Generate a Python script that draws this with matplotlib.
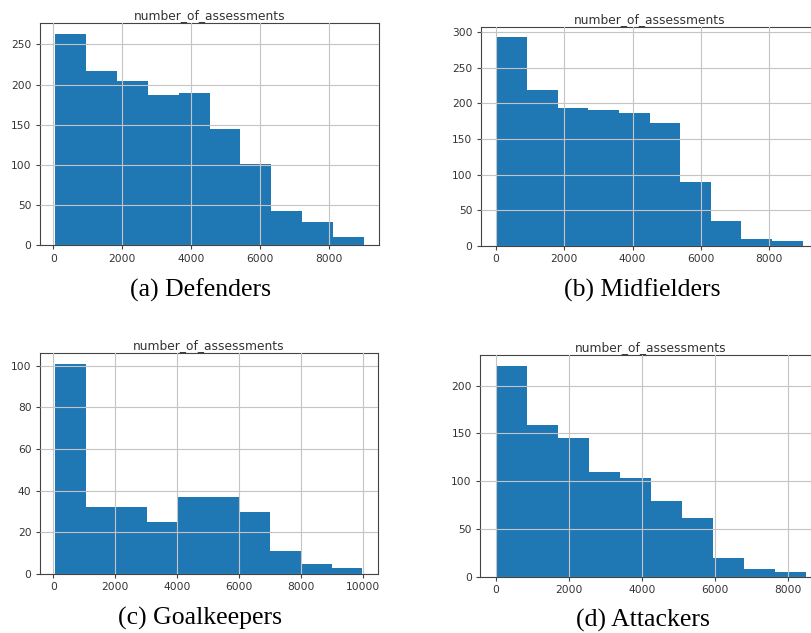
import numpy as np
import matplotlib
matplotlib.use('Agg')
import matplotlib.pyplot as plt

# counts per bin (10 bins each, pandas default)
defenders = [263, 217, 204, 187, 190, 145, 101, 43, 29, 10]
midfielders = [293, 219, 194, 191, 187, 173, 89, 35, 10, 7]
goalkeepers = [101, 32, 32, 25, 37, 37, 30, 11, 5, 3]
attackers = [221, 159, 145, 110, 103, 79, 62, 20, 8, 5]

# min / max of number_of_assessments per group
defenders_range = (60, 9010)
midfielders_range = (10, 8985)
goalkeepers_range = (65, 9970)
attackers_range = (5, 8470)

captions = ['(a) Defenders', '(b) Midfielders', '(c) Goalkeepers', '(d) Attackers']

plt.rcParams['xtick.labelsize'] = 7.7
plt.rcParams['ytick.labelsize'] = 7.7
plt.rcParams['axes.edgecolor'] = '#444444'
plt.rcParams['xtick.color'] = '#444444'
plt.rcParams['ytick.color'] = '#444444'
plt.rcParams['xtick.labelcolor'] = '#333333'
plt.rcParams['ytick.labelcolor'] = '#333333'
plt.rcParams['xtick.major.size'] = 2.6
plt.rcParams['ytick.major.size'] = 2.6

fig = plt.figure(figsize=(8.12, 6.33), dpi=100)

panels = [
    (defenders, defenders_range, [0.0493, 0.6125, 0.4175, 0.3507]),
    (midfielders, midfielders_range, [0.5924, 0.6118, 0.415, 0.346]),
    (goalkeepers, goalkeepers_range, [0.0493, 0.0932, 0.4159, 0.3487]),
    (attackers, attackers_range, [0.5915, 0.0885, 0.4196, 0.3507]),
]
caption_pos = [(201, 290), (642, 290), (200, 618), (643, 620)]

for (counts, rng, rect), cap, (cx, cy) in zip(panels, captions, caption_pos):
    ax = fig.add_axes(rect)
    edges = np.linspace(rng[0], rng[1], len(counts) + 1)
    ax.hist(edges[:-1], bins=edges, weights=counts, color='#1f77b4')
    ax.grid(True, color='#c4c4c4', linewidth=0.8)
    ax.set_axisbelow(False)
    ax.set_title('number_of_assessments', fontsize=8.8, color='#333333', pad=3)
    fig.text(cx / 812, 1 - cy / 633, cap, ha='center', va='center',
             family='Liberation Serif', fontsize=18.5)

fig.savefig('out.png', dpi=100)
